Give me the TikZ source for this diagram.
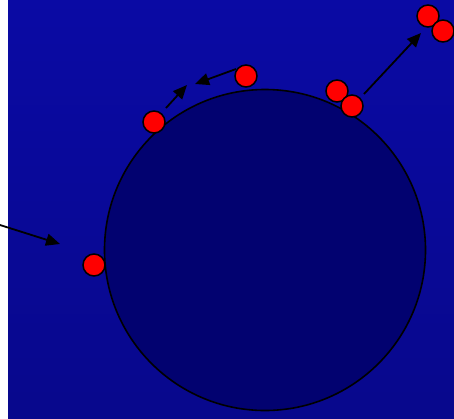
\documentclass[tikz,border=0pt]{standalone}
\usetikzlibrary{arrows.meta}
\definecolor{bgtop}{RGB}{10,10,164}
\definecolor{bgbot}{RGB}{8,8,140}
\definecolor{cellfill}{RGB}{2,2,112}
\definecolor{ballred}{RGB}{255,0,0}
\tikzset{
  ball/.style={circle,draw=black,line width=1.5pt,fill=ballred,minimum size=22pt,inner sep=0pt},
  arr/.style={draw=black,line width=1.8pt,-{Triangle[length=14pt,width=12pt]}}
}
\begin{document}
\begin{tikzpicture}[x=1pt,y=-1pt]
\useasboundingbox (0,0) rectangle (454,418);
\shade[top color=bgtop,bottom color=bgbot] (8,0) rectangle (454,418);
\draw[fill=cellfill,line width=1.6pt] (265,250) circle (160.5);
\node[ball] (b1) at (94,265) {};
\node[ball] (b2) at (154,122) {};
\node[ball] (b3) at (246,76) {};
\node[ball] (b4) at (337,91) {};
\node[ball] (b5) at (352,106) {};
\node[ball] (b6) at (428,16) {};
\node[ball] (b7) at (443,31) {};
\coordinate (a1s) at (0,225);
\coordinate (a1e) at (60,244);
\coordinate (a2s) at (166,108);
\coordinate (a2e) at (187,85);
\coordinate (a3s) at (236,69);
\coordinate (a3e) at (195,84);
\coordinate (a4s) at (364,94);
\coordinate (a4e) at (421,33);
\draw[arr] (a1s) -- (a1e);
\draw[arr] (a2s) -- (a2e);
\draw[arr] (a3s) -- (a3e);
\draw[arr] (a4s) -- (a4e);
\end{tikzpicture}
\end{document}
